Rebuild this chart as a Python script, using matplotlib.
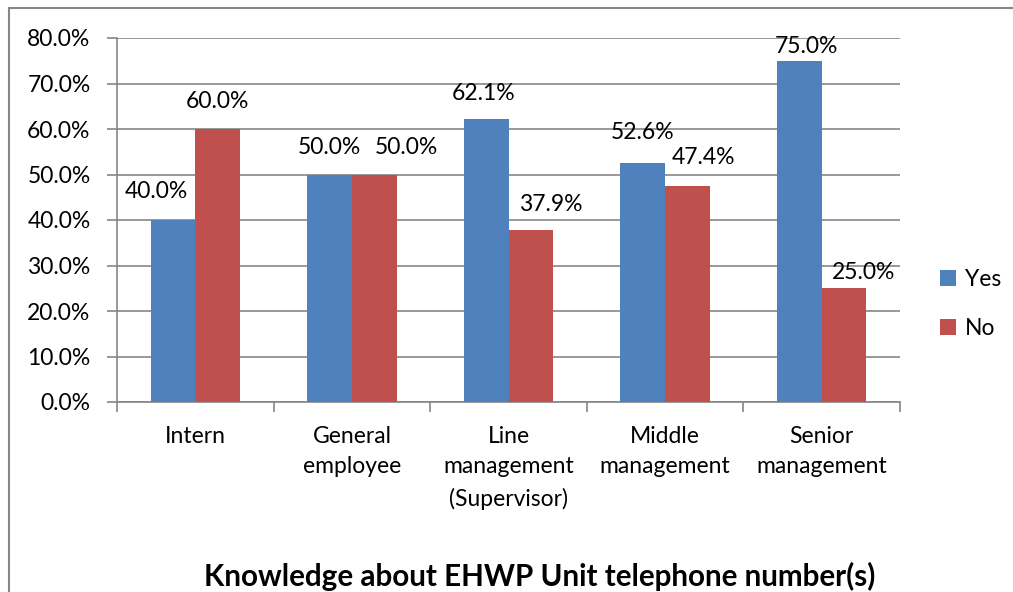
import matplotlib
matplotlib.use("Agg")
import matplotlib.pyplot as plt
import numpy as np
from matplotlib.patches import Rectangle
from matplotlib.ticker import FuncFormatter, MultipleLocator

categories = ["Intern", "General\nemployee", "Line\nmanagement\n(Supervisor)",
              "Middle\nmanagement", "Senior\nmanagement"]
yes_vals = [40.0, 50.0, 62.1, 52.6, 75.0]
no_vals = [60.0, 50.0, 37.9, 47.4, 25.0]
series_names = ["Yes", "No"]
title = "Knowledge about EHWP Unit telephone number(s)"

# manual data-label nudges (pixels: dx, dy of label centre above bar top)
yes_label_nudge = [(-17, 29), (0, 27), (-3, 26), (0, 30), (7, 14)]
no_label_nudge = [(0, 27), (32, 27), (20, 25), (16, 29), (19, 16)]

blue = "#4F81BD"
red = "#C0504D"
grey = "#868686"

plt.rcParams['font.family'] = ['Lato', 'DejaVu Sans']
W, H = 1013, 592
fig = plt.figure(figsize=(W/100, H/100), dpi=100)
ax = fig.add_axes([117/W, 1-402/H, (900-117)/W, (402-38)/H])

FS = 16.5
x = np.arange(len(categories))
bw = 0.2857
b1 = ax.bar(x - bw/2, yes_vals, bw, color=blue, label=series_names[0], zorder=3)
b2 = ax.bar(x + bw/2, no_vals, bw, color=red, label=series_names[1], zorder=3)

for bars, vals, nudges in ((b1, yes_vals, yes_label_nudge),
                           (b2, no_vals, no_label_nudge)):
    for rect, v, (dx, dy) in zip(bars, vals, nudges):
        ax.annotate(f"{v:.1f}%", (rect.get_x() + rect.get_width()/2, v),
                    xytext=(dx, dy), textcoords="offset pixels",
                    ha="center", va="center", fontsize=FS, color="black",
                    annotation_clip=False)

ax.set_xlim(-0.5, len(categories) - 0.5)
ax.set_ylim(0, 80)
ax.yaxis.set_major_locator(MultipleLocator(10))
ax.yaxis.set_major_formatter(FuncFormatter(lambda v, p: f"{v:.1f}%"))
ax.grid(axis="y", color=grey, linewidth=1.2, zorder=0)
ax.set_axisbelow(True)

ax.set_xticks(np.arange(len(categories) + 1) - 0.5)
ax.set_xticklabels([])
ax.set_xticks(x, minor=True)
ax.set_xticklabels(categories, minor=True, fontsize=FS, linespacing=1.58)
ax.tick_params(axis="x", which="minor", length=0, pad=17)
ax.tick_params(axis="x", which="major", length=7, color=grey, width=1.2)
ax.tick_params(axis="y", length=7, color=grey, width=1.2, labelsize=FS, pad=12)

for s in ("top", "right"):
    ax.spines[s].set_visible(False)
for s in ("left", "bottom"):
    ax.spines[s].set_color(grey)
    ax.spines[s].set_linewidth(1.2)

leg = fig.legend(handles=[b1, b2], labels=series_names, loc="center left",
                 bbox_to_anchor=(940/W, 1-304/H), frameon=False, fontsize=FS,
                 borderpad=0, borderaxespad=0,
                 handlelength=0.7, handleheight=0.7, handletextpad=0.4,
                 labelspacing=1.25)

fig.text(540/W, 1-576/H, title, ha="center", va="center",
         fontsize=21.3, fontweight="bold")

fig.patches.append(Rectangle((9/W, -0.05), 1.2, 1 - 8/H + 0.05,
                             transform=fig.transFigure, fill=False,
                             edgecolor=grey, linewidth=1.5))

fig.savefig("out.png", dpi=100)
